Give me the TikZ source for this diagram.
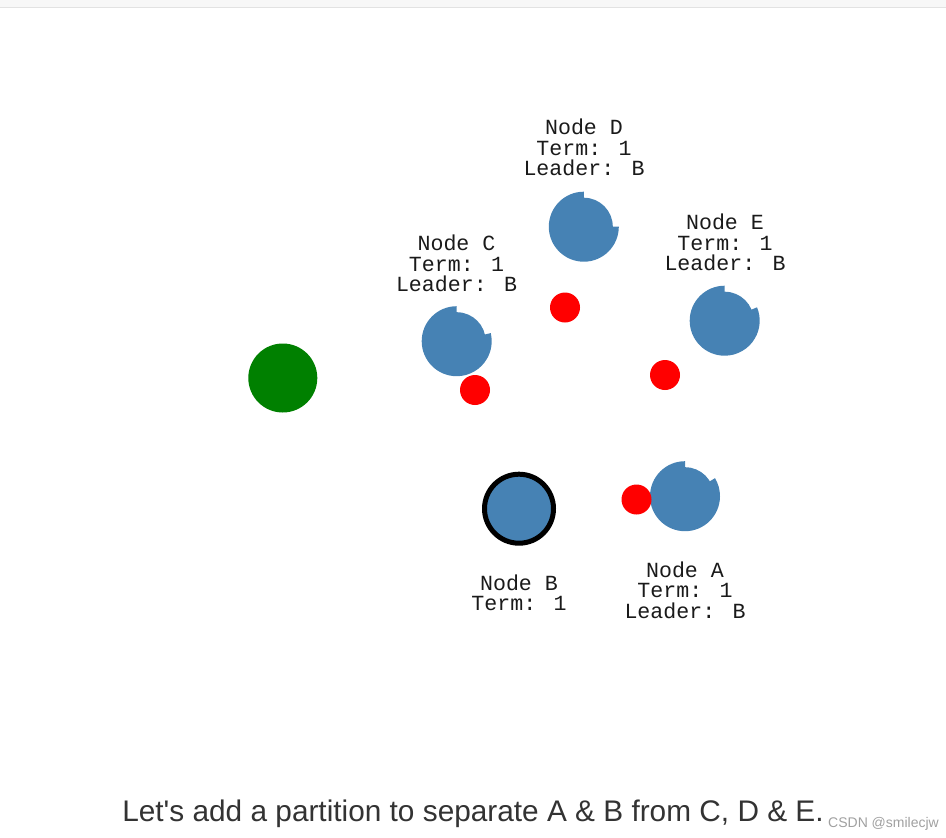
\documentclass[tikz,border=0pt]{standalone}
\usepackage{fontspec}
\newfontfamily\monofnt{Liberation Mono}
\newfontfamily\sansfnt{Liberation Sans}
\definecolor{steel}{HTML}{4682B4}
\definecolor{leafgreen}{HTML}{008000}
\definecolor{captiongray}{HTML}{333333}
\definecolor{markgray}{HTML}{A0A0A0}
\definecolor{barfill}{HTML}{F7F7F7}
\definecolor{barline}{HTML}{E2E2E2}
\definecolor{labelink}{HTML}{1A1A1A}
\newcommand\timerarc[2]{\fill[steel] (#1.center) -- ++(90:35) arc[start angle=90,end angle=#2,radius=35] -- cycle;}
\begin{document}
\begin{tikzpicture}[x=1pt,y=1pt,
  core/.style={circle,fill=steel,minimum size=58pt,inner sep=0pt,outer sep=0pt},
  leader/.style={circle,fill=steel,draw=black,line width=5pt,minimum size=69pt,inner sep=0pt},
  client/.style={circle,fill=leafgreen,minimum size=69pt,inner sep=0pt},
  msg/.style={circle,fill=red,minimum size=30pt,inner sep=0pt},
  lbl/.style={font=\monofnt\fontsize{21.6}{22}\selectfont,anchor=base,inner sep=0pt,text=labelink},
  captionstyle/.style={font=\sansfnt\fontsize{29.8}{32}\selectfont,anchor=base,inner sep=0pt,text=captiongray},
  watermark/.style={font=\sansfnt\fontsize{14}{16}\selectfont,anchor=base west,inner sep=0pt,text=markgray}]
\useasboundingbox (0,0) rectangle (946,-838);
% top bar
\fill[barfill] (0,0) rectangle (946,-7);
\draw[barline,line width=1pt] (0,-7) -- (946,-7);

% client
\node[client] (client) at (282.8,-378) {};

% followers
\node[core] (C) at (456.7,-341.2) {};
\timerarc{C}{373.4}
\node[core] (D) at (583.8,-226.7) {};
\timerarc{D}{360}
\node[core] (E) at (724.7,-320.7) {};
\timerarc{E}{382.5}
\node[core] (A) at (685,-496.2) {};
\timerarc{A}{391}

% leader
\node[leader] (B) at (519,-508.7) {};

% messages
\node[msg] (mC) at (475,-390) {};
\node[msg] (mD) at (565,-307.5) {};
\node[msg] (mE) at (665,-375) {};
\node[msg] (mA) at (636.5,-499.5) {};

% labels
\node[lbl] (Dl1) at (584,-134.5) {Node D};
\node[lbl] (Dl2) at (584,-155) {Term: 1};
\node[lbl] (Dl3) at (584,-175.5) {Leader: B};

\node[lbl] (Cl1) at (456.5,-250.5) {Node C};
\node[lbl] (Cl2) at (456.5,-271) {Term: 1};
\node[lbl] (Cl3) at (456.5,-291.5) {Leader: B};

\node[lbl] (El1) at (725,-229.5) {Node E};
\node[lbl] (El2) at (725,-250) {Term: 1};
\node[lbl] (El3) at (725,-270.5) {Leader: B};

\node[lbl] (Bl1) at (519,-590.3) {Node B};
\node[lbl] (Bl2) at (519,-610.8) {Term: 1};

\node[lbl] (Al1) at (685,-577.3) {Node A};
\node[lbl] (Al2) at (685,-597.8) {Term: 1};
\node[lbl] (Al3) at (685,-618.3) {Leader: B};

% caption
\node[captionstyle] (cap) at (473,-821) {Let's add a partition to separate A \& B from C, D \& E.};
\node[watermark] (wm) at (828,-827) {CSDN @smilecjw};
\end{tikzpicture}
\end{document}
